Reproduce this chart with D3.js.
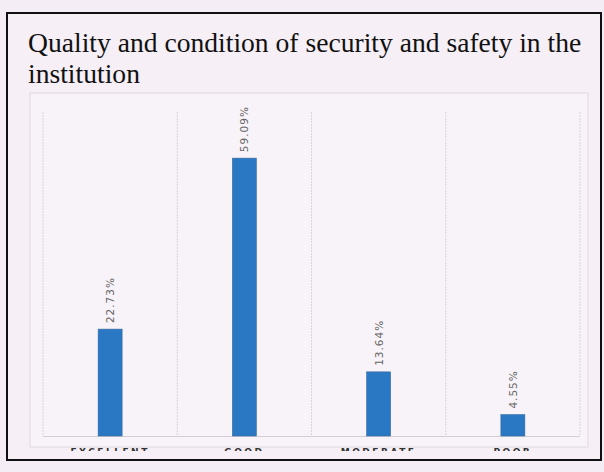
<!DOCTYPE html>
<html>
<head>
<meta charset="utf-8">
<script src="https://cdn.jsdelivr.net/npm/d3@7"></script>
<style>
  html, body { margin: 0; padding: 0; background: #f5edf5; }
  svg { display: block; }
</style>
</head>
<body>
<svg id="chart" width="604" height="472"></svg>
<script>
const categories = ["EXCELLENT", "GOOD", "MODERATE", "POOR"];
const values = [22.73, 59.09, 13.64, 4.55];
const valueLabels = ["22.73%", "59.09%", "13.64%", "4.55%"];
const titleLines = ["Quality and condition of security and safety in the", "institution"];

const svg = d3.select("#chart");
const W = 604, H = 472;

svg.append("rect").attr("width", W).attr("height", H).attr("fill", "#f5edf5");

// outer black frame
svg.append("rect")
  .attr("x", 7).attr("y", 13).attr("width", 594).attr("height", 447)
  .attr("fill", "#f6eff6").attr("stroke", "#111").attr("stroke-width", 2);

// title
svg.append("g").selectAll("text").data(titleLines).join("text")
  .attr("x", 28).attr("y", (d, i) => 52 + i * 31)
  .attr("font-family", "Liberation Serif, Times New Roman, serif")
  .attr("font-size", 27.6)
  .attr("fill", "#111")
  .text(d => d);

// inner chart box
svg.append("rect")
  .attr("x", 30).attr("y", 93).attr("width", 558).attr("height", 354)
  .attr("fill", "#f8f3f8").attr("stroke", "#e2dae2").attr("stroke-width", 1);

const x = d3.scaleBand().domain(categories).range([43, 580]).padding(0);
const y = d3.scaleLinear().domain([0, 68.9]).range([436, 112]);

// vertical grid lines at band boundaries
const bounds = categories.map(c => x(c)).concat([x.range()[1]]);
svg.append("g").selectAll("line").data(bounds).join("line")
  .attr("x1", d => d).attr("x2", d => d)
  .attr("y1", 112).attr("y2", 436)
  .attr("stroke", "#d9d2d9").attr("stroke-width", 1)
  .attr("stroke-dasharray", "2,1");

// baseline
svg.append("line")
  .attr("x1", 43).attr("x2", 580).attr("y1", 436.5).attr("y2", 436.5)
  .attr("stroke", "#d4cdd4").attr("stroke-width", 1);

const barW = 24;
// bars
svg.append("g").selectAll("rect").data(values).join("rect")
  .attr("x", (d, i) => x(categories[i]) + x.bandwidth() / 2 - barW / 2)
  .attr("y", d => y(d))
  .attr("width", barW)
  .attr("height", d => y(0) - y(d))
  .attr("fill", "#2a77c4")
  .attr("stroke", "#3a6c9c").attr("stroke-width", 0.6);

// value labels (rotated)
svg.append("g").selectAll("text").data(values).join("text")
  .attr("transform", (d, i) => `translate(${x(categories[i]) + x.bandwidth() / 2 + 4},${y(d) - 6}) rotate(-90)`)
  .attr("text-anchor", "start")
  .attr("font-family", "DejaVu Sans, sans-serif")
  .attr("font-size", 10.5)
  .attr("letter-spacing", 1)
  .attr("fill", "#666")
  .text((d, i) => valueLabels[i]);

// category labels, partly hidden by the frame as in the source
svg.append("defs").append("clipPath").attr("id", "lblclip")
  .append("rect").attr("x", 0).attr("y", 0).attr("width", W).attr("height", 451);

svg.append("g").attr("clip-path", "url(#lblclip)")
  .selectAll("text").data(categories).join("text")
  .attr("x", d => x(d) + x.bandwidth() / 2)
  .attr("y", 455)
  .attr("text-anchor", "middle")
  .attr("font-family", "DejaVu Sans, sans-serif")
  .attr("font-size", 9)
  .attr("font-weight", "bold")
  .attr("letter-spacing", 2.5)
  .attr("fill", "#333")
  .text(d => d);
</script>
</body>
</html>
